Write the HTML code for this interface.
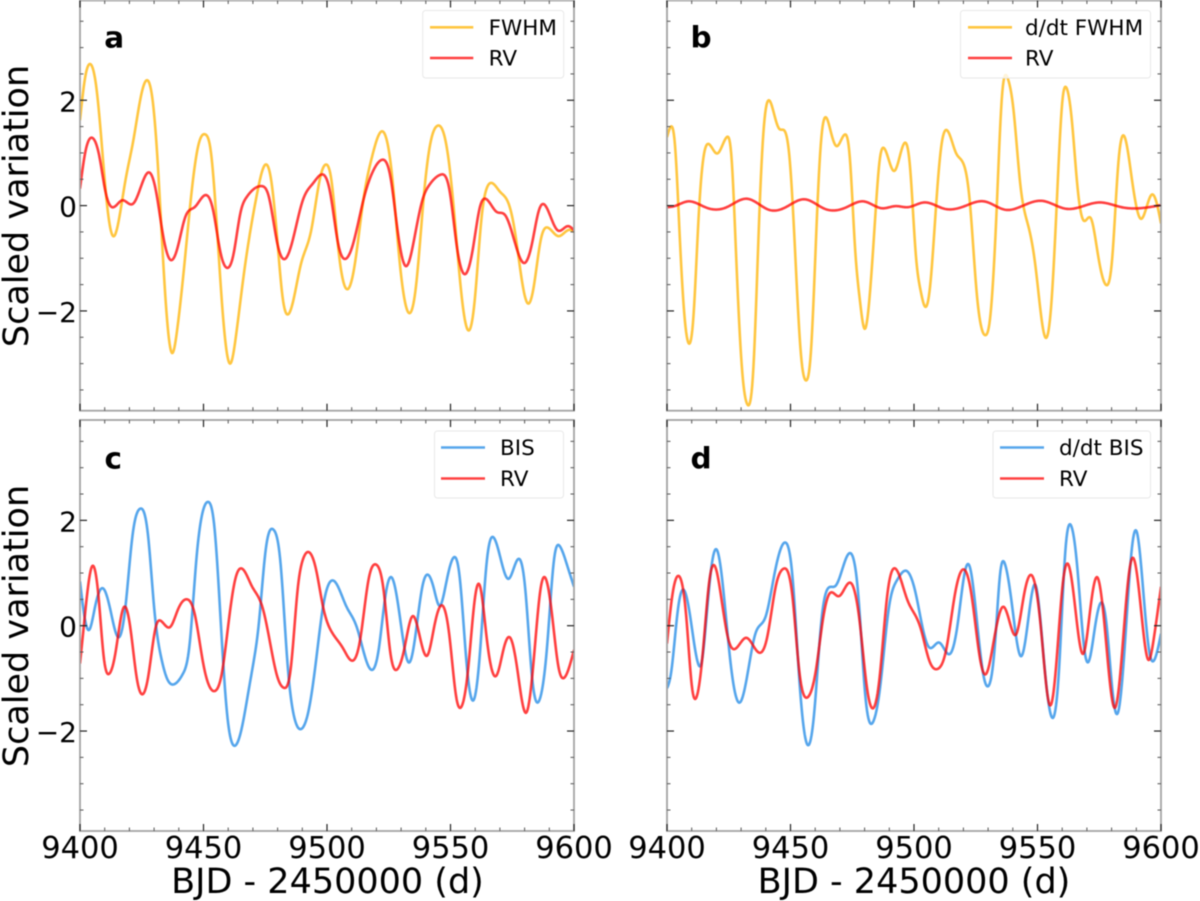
<!DOCTYPE html>
<html>
<head>
<meta charset="utf-8">
<title>Scaled variation panels</title>
<style>
html,body{margin:0;padding:0;background:#fff;width:1200px;height:901px;overflow:hidden}
svg{display:block;filter:blur(0.45px)}
text{font-family:"DejaVu Sans","Liberation Sans",sans-serif;fill:#000}
.leg{font-size:21.5px}
.pl{font-size:29.5px;font-weight:bold}
.tk{font-size:30.5px}
.tky{font-size:28px}
.al{font-size:35px}
</style>
</head>
<body>
<svg id="chart" width="1200" height="901" viewBox="0 0 1200 901" xmlns="http://www.w3.org/2000/svg">
<defs>
<clipPath id="clip-a"><rect x="80" y="0.5" width="494" height="410.2"/></clipPath>
<clipPath id="clip-b"><rect x="667" y="0.5" width="494" height="410.2"/></clipPath>
<clipPath id="clip-c"><rect x="80" y="420" width="494" height="411"/></clipPath>
<clipPath id="clip-d"><rect x="667" y="420" width="494" height="411"/></clipPath>
</defs>
<rect width="1200" height="901" fill="#fff"/>
<g id="marks"></g>
<g id="ticks"></g>
<g>
<rect x="422.7" y="10.5" width="141" height="67.5" rx="3" fill="#fff" fill-opacity="0.8" stroke="#e8e8e8"/>
<line x1="430" x2="473.3" y1="27.3" y2="27.3" stroke="#ffb300" stroke-opacity="0.75" stroke-width="2.6"/>
<text class="leg" x="488.6" y="35">FWHM</text>
<line x1="430" x2="473.3" y1="58" y2="58" stroke="#ff0000" stroke-opacity="0.75" stroke-width="2.6"/>
<text class="leg" x="488.6" y="65.7">RV</text>
</g>
<g>
<rect x="960.5" y="10.5" width="190" height="67.5" rx="3" fill="#fff" fill-opacity="0.8" stroke="#e8e8e8"/>
<line x1="968" x2="1012" y1="27.3" y2="27.3" stroke="#ffb300" stroke-opacity="0.75" stroke-width="2.6"/>
<text class="leg" x="1025" y="35">d/dt FWHM</text>
<line x1="968" x2="1012" y1="58" y2="58" stroke="#ff0000" stroke-opacity="0.75" stroke-width="2.6"/>
<text class="leg" x="1025" y="65.7">RV</text>
</g>
<g>
<rect x="434.5" y="431" width="129" height="67" rx="3" fill="#fff" fill-opacity="0.8" stroke="#e8e8e8"/>
<line x1="441" x2="485" y1="447.5" y2="447.5" stroke="#1e88e5" stroke-opacity="0.75" stroke-width="2.6"/>
<text class="leg" x="500" y="455.2">BIS</text>
<line x1="441" x2="485" y1="478.5" y2="478.5" stroke="#ff0000" stroke-opacity="0.75" stroke-width="2.6"/>
<text class="leg" x="500" y="486.2">RV</text>
</g>
<g>
<rect x="993" y="431" width="157.5" height="67" rx="3" fill="#fff" fill-opacity="0.8" stroke="#e8e8e8"/>
<line x1="1000" x2="1044" y1="447.5" y2="447.5" stroke="#1e88e5" stroke-opacity="0.75" stroke-width="2.6"/>
<text class="leg" x="1059" y="455.2">d/dt BIS</text>
<line x1="1000" x2="1044" y1="478.5" y2="478.5" stroke="#ff0000" stroke-opacity="0.75" stroke-width="2.6"/>
<text class="leg" x="1059" y="486.2">RV</text>
</g>
<text class="pl" x="104.3" y="47.5">a</text>
<text class="pl" x="690.5" y="47.5">b</text>
<text class="pl" x="104.5" y="468.7">c</text>
<text class="pl" x="690.5" y="468.7">d</text>
<text class="al" text-anchor="middle" transform="translate(28,206) rotate(-90)">Scaled variation</text>
<text class="al" text-anchor="middle" transform="translate(28,626) rotate(-90)">Scaled variation</text>
<text class="al" text-anchor="middle" x="327.5" y="893">BJD - 2450000 (d)</text>
<text class="al" text-anchor="middle" x="914" y="893">BJD - 2450000 (d)</text>
</svg>
<script>
const xMajorTicks = [9400, 9450, 9500, 9550, 9600];
const xMinorTicks = [9410,9420,9430,9440,9460,9470,9480,9490,9510,9520,9530,9540,9560,9570,9580,9590];
const yMajorTicks = [-2, 0, 2];
const yMinorTicks = [-3.5,-3,-2.5,-1.5,-1,-0.5,0.5,1,1.5,2.5,3,3.5];
const xTickLabels = ["9400","9450","9500","9550","9600"];
const yTickLabels = ["\u22122","0","2"];

const fwhmDays = [0,2,4.4,6.6,8.9,10.9,13.4,15.7,18.4,21.6,24.6,27,29.4,31.4,33.5,35.5,37.3,39.3,42.3,45.4,48.1,50.8,52.9,54.9,57.4,60.8,63.1,66.2,69,71.7,75.1,77.2,79.9,82,84.4,86.7,89.5,93.6,97,99.7,101.8,104.5,108.6,111.3,114.7,118.2,123,126.4,129.1,133.2,136,139.3,142.1,144.5,148.2,150.9,154.4,157.5,159.8,162.6,164.6,166.7,170.1,173.5,176.2,178.9,181.4,183.7,186.5,189.5,193.7,198.1,200];
const fwhmValues = [1.62,2.41,2.68,2.25,1.11,0.04,-0.58,-0.28,0.48,1.24,2.06,2.38,2.0,0.86,-0.91,-2.30,-2.80,-2.37,-1.10,0.35,1.18,1.35,1.05,-0.03,-1.80,-3.0,-2.49,-1.35,-0.47,0.23,0.78,0.54,-0.66,-1.73,-2.06,-1.73,-1.10,-0.47,0.48,0.78,0.48,-0.78,-1.58,-1.10,0.10,0.92,1.39,0.54,-0.91,-2.04,-1.54,0.23,1.24,1.51,1.18,0.16,-1.67,-2.37,-1.80,-0.22,0.32,0.43,0.26,0.04,-0.53,-1.42,-1.86,-1.54,-0.66,-0.42,-0.58,-0.46,-0.5];

const rvADays = [0,2,5.2,7.9,10.2,13,17.1,21.6,24.6,28,30.7,33.5,36.6,39.6,42.6,46.4,50.8,53.9,56.7,59.4,62.2,64.9,67.3,73.5,76.5,79.9,83.1,86.1,90.2,94.3,97.7,101.1,104.5,107.6,110.6,114.7,118.8,122.3,125.7,128.4,132,135.2,138.6,141.4,146.2,149.6,152.4,156,159.2,161.9,164.2,168.7,172.1,176.2,179.9,183,185.8,187.6,190.6,193.4,197.5,200];
const rvAValues = [0.32,0.98,1.28,0.92,0.29,-0.03,0.10,0.04,0.35,0.63,0.29,-0.53,-1.03,-0.78,-0.22,-0.03,0.20,-0.09,-0.85,-1.18,-0.91,-0.15,0.15,0.37,0.16,-0.72,-1.01,-0.66,0.10,0.42,0.59,0.29,-0.72,-1.01,-0.72,0.10,0.67,0.87,0.54,-0.41,-1.15,-0.66,0.10,0.39,0.59,0.29,-0.72,-1.30,-0.78,-0.03,0.13,-0.12,-0.18,-0.72,-1.09,-0.72,-0.09,0.03,-0.22,-0.47,-0.39,-0.47];

const dFwhmDays = [0,1.4,3.3,5.1,7.1,8.9,10.7,12.8,14.6,17.2,20.4,24.2,26.2,27.9,30.3,32.6,35,37.4,39.2,41.3,43.3,45.4,48.1,49.7,51.5,54.2,56.3,58.3,60.7,62.4,64.5,66.5,68.6,72,74,76.1,78.1,80,81.9,84.3,86.1,87.9,92.1,96.2,98.4,100.7,102.7,104.5,106.5,108.9,111,113.4,117.1,120.5,122.5,125.3,128.9,130.7,133.5,135.5,138,140.3,143,146.4,149.2,153.3,155.7,158.1,160.1,161.7,163.9,166.2,168.6,171.7,174.4,177.9,180.3,182.6,185.4,188.1,191.8,196.3,198.3,200];
const dFwhmValues = [1.30,1.49,1.11,-0.53,-2.11,-2.62,-2.11,-0.22,0.86,1.16,0.99,1.30,0.86,-0.85,-3.06,-3.78,-3.06,-0.15,1.49,2.0,1.75,1.46,1.37,0.86,-0.53,-2.81,-3.32,-2.75,-0.22,1.24,1.67,1.37,1.13,1.35,0.92,-0.78,-1.80,-2.34,-1.80,-0.22,0.86,1.09,0.66,1.19,0.73,-0.91,-1.62,-1.92,-1.54,-0.03,1.11,1.43,0.99,0.73,0.12,-1.61,-2.46,-2.18,-0.03,2.0,2.41,1.81,0.42,-0.41,-1.16,-2.51,-1.80,0.35,2.0,2.24,1.62,0.35,-0.28,-0.25,-0.91,-1.51,-0.97,0.73,1.29,0.54,-0.25,0.21,0.04,-0.34];

const rvBDays = [0,3,8.5,16,24.2,32.4,41.3,48.1,55.6,63.8,72.7,79.5,87,92.5,97.5,104.1,112.3,120.5,128.4,137.1,143.7,151.9,161.5,175.1,184,200];
const rvBValues = [-0.03,-0.01,0.08,-0.04,-0.03,0.13,-0.08,-0.03,0.12,-0.06,-0.03,0.08,-0.05,-0.01,-0.03,0.06,-0.06,-0.01,0.08,-0.08,-0.01,0.09,-0.06,0.06,-0.03,0.01];

const bisDays = [0,1.4,3.7,6.1,9.3,12.3,15.7,18.4,21.2,24.3,27.6,30.1,32.8,35.5,38.2,41.7,44.4,47.1,49.9,51.9,54.4,57.1,59.4,62.6,65.6,68.3,70.3,72.4,75.1,78.4,81.2,83.9,86.7,89.6,92.6,95.6,98.4,103.1,107.9,112,115.4,118.2,120.9,123.6,126.1,129.1,131.8,133.2,135.9,138.6,140.7,143.4,145.5,148.2,151.4,153.7,156.4,159.4,161.9,164.6,167.7,170.8,173.5,177.6,180.3,183,186.1,189.2,191.9,194.4,197.4,200];
const bisValues = [0.84,0.30,-0.08,0.36,0.71,0.30,-0.22,0.36,1.69,2.22,1.69,0.30,-0.59,-1.03,-1.11,-0.91,-0.34,1.25,2.20,2.35,1.88,-0.02,-1.60,-2.28,-1.92,-1.22,-0.68,0.04,1.41,1.82,1.18,-0.65,-1.73,-1.96,-1.60,-0.65,0.36,0.84,0.36,-0.02,-0.59,-0.84,-0.46,0.55,0.92,0.30,-0.53,-0.70,-0.15,0.74,0.97,0.68,0.38,0.80,1.30,0.93,-0.65,-1.41,-0.53,1.18,1.66,1.18,0.89,1.27,0.68,-0.97,-1.40,-0.34,1.25,1.50,1.12,0.74];

const rvCDays = [0,1.6,4.8,7.5,9.6,11.9,14.3,17.5,20.5,22.9,25,27.6,30.7,32.8,36.6,39.6,43.4,46.4,49.9,54.6,57.4,60.1,62.8,66.2,69.7,73.8,76.5,79.9,82.6,85.4,88.1,90.2,92.9,95.6,98.4,101.8,106.5,110.6,113.4,116.8,119.9,122.9,125.7,128.4,131.2,134.6,137.3,140.7,143.4,146.8,149.6,152.3,154.4,157.1,159.8,161.9,164.6,168.7,171.4,174.2,176.9,180.7,183.7,186.4,188.5,191.2,193.7,196,198.1,200];
const rvCValues = [-0.72,0.02,1.12,0.55,-0.59,-0.91,-0.53,0.33,-0.08,-0.97,-1.30,-0.97,-0.02,0.09,-0.02,0.30,0.50,0.23,-0.72,-1.24,-0.91,0.04,0.87,1.06,0.74,0.36,-0.21,-0.97,-1.18,-0.78,0.68,1.25,1.39,1.06,0.36,-0.11,-0.43,-0.66,-0.27,0.87,1.16,0.68,-0.53,-0.83,-0.46,0.18,-0.15,-0.56,-0.02,0.38,-0.21,-1.35,-1.54,-0.84,0.49,0.76,-0.21,-0.94,-0.46,-0.23,-0.78,-1.65,-0.65,0.68,0.90,0.17,-0.78,-0.99,-0.78,-0.46];

const dBisDays = [0,1.6,4.4,6.8,9.6,12.6,13.9,16,18,20.2,22.8,25.6,29.4,32.4,35.8,39.9,43.3,47.8,50.8,53.5,57.2,59.7,62.4,65.2,68.3,71.3,74.7,77.5,80.2,83.6,86.3,89.7,93.2,97,100.7,103.4,106.1,110.2,114.7,117.7,120.5,122.5,125.3,128,130,132.8,134.9,136.9,139.6,143.4,146.4,149.2,152.6,156,158.7,161.2,163.5,166.2,169,170.6,173.1,175.8,177.9,180.6,182.5,185.4,188.1,190.2,192.9,195.4,197.3,200];
const dBisValues = [-1.19,-0.91,0.30,0.68,0.11,-0.72,-0.72,0.17,1.12,1.44,0.68,-0.65,-1.46,-0.97,-0.15,0.17,0.93,1.58,0.93,-0.97,-2.27,-1.60,0.04,0.71,0.76,1.12,1.36,0.55,-1.28,-1.81,-1.16,0.30,0.87,1.04,0.61,-0.02,-0.41,-0.32,-0.53,0.04,1.0,1.13,0.17,-0.91,-1.15,-0.34,1.0,1.16,0.42,-0.58,0.17,0.77,-0.65,-1.75,-0.84,1.37,1.91,1.06,-0.46,-0.69,-0.08,0.44,0.04,-1.35,-1.66,-0.34,1.42,1.78,0.61,-0.53,-0.65,-0.15];

const rvDDays = [0,1.9,4.9,7.8,10.1,12,14.6,17,19.4,22.1,24.9,27.6,32.1,37.2,40.6,44,47.1,50.8,53.5,56.9,60.3,63.1,65.8,69.6,74.7,78.1,80.9,83.3,86.1,89.1,92.8,97.3,102.7,106.1,109.6,113,116.4,120.5,123.2,126.6,129.1,132.1,136.2,138.9,141.4,144.4,147.8,151.2,155,157.4,160.1,162.4,164.9,168.6,171,174.2,177.2,181.3,184,186.3,188.5,191.5,194.9,197,200];
const rvDValues = [-0.34,0.49,0.94,0.17,-1.16,-1.35,-0.46,0.80,1.13,0.49,-0.27,-0.44,-0.23,-0.51,-0.21,0.74,1.08,0.55,-0.84,-1.36,-0.84,0.11,0.61,0.56,0.80,0.04,-1.16,-1.57,-0.97,0.55,1.07,0.49,-0.05,-0.65,-0.82,-0.46,0.55,1.06,0.61,-0.59,-0.92,-0.34,0.36,0.04,-0.16,0.55,0.95,0.04,-1.51,-0.84,0.74,1.17,0.49,-0.53,0.17,0.92,-0.02,-1.56,-0.65,0.68,1.29,0.49,-0.65,-0.27,0.74];

const SVGNS = 'http://www.w3.org/2000/svg';
const PANEL_W = 494, UNIT = 52.67, X_START = 9400, X_SPAN = 200;
const panels = [
  {id:'a', left:80,  top:0.5, bottom:410.7, zero:205.6, xLabels:false, yLabels:true},
  {id:'b', left:667, top:0.5, bottom:410.7, zero:205.6, xLabels:false, yLabels:false},
  {id:'c', left:80,  top:420, bottom:831, zero:625.7, xLabels:true,  yLabels:true},
  {id:'d', left:667, top:420, bottom:831, zero:625.7, xLabels:true,  yLabels:false}
];
function xAxis(p, bjd){ return p.left + (bjd - X_START) / X_SPAN * PANEL_W; }
function yAxis(p, v){ return p.zero - v * UNIT; }

function splineSamples(xs, ys, step){
  const n = xs.length, y2 = new Array(n).fill(0), u = new Array(n).fill(0);
  for(let i=1;i<n-1;i++){
    const sig=(xs[i]-xs[i-1])/(xs[i+1]-xs[i-1]);
    const q=sig*y2[i-1]+2;
    y2[i]=(sig-1)/q;
    const d=(ys[i+1]-ys[i])/(xs[i+1]-xs[i])-(ys[i]-ys[i-1])/(xs[i]-xs[i-1]);
    u[i]=(6*d/(xs[i+1]-xs[i-1])-sig*u[i-1])/q;
  }
  for(let k=n-2;k>=0;k--){ y2[k]=y2[k]*y2[k+1]+u[k]; }
  const out=[]; let j=0;
  for(let t=xs[0];t<=xs[n-1]+1e-6;t+=step){
    while(j<n-2 && t>xs[j+1]) j++;
    const h=xs[j+1]-xs[j], a=(xs[j+1]-t)/h, b=(t-xs[j])/h;
    const v=a*ys[j]+b*ys[j+1]+((a*a*a-a)*y2[j]+(b*b*b-b)*y2[j+1])*h*h/6;
    out.push([t,v]);
  }
  return out;
}

const marksLayer = document.getElementById('marks');
const ticksLayer = document.getElementById('ticks');

function drawSeries(p, days, values, color, name){
  const pts = splineSamples(days, values, 0.25);
  const d = pts.map(function(pt,i){
    return (i?'L':'M') + xAxis(p, X_START + pt[0]).toFixed(2) + ' ' + yAxis(p, pt[1]).toFixed(2);
  }).join('');
  const el = document.createElementNS(SVGNS,'path');
  
  
  el.setAttribute('d', d);
  el.setAttribute('fill', 'none');
  el.setAttribute('stroke', color);
  el.setAttribute('stroke-opacity', '0.75');
  el.setAttribute('stroke-width', '2.6');
  el.setAttribute('stroke-linejoin', 'round');
  el.setAttribute('clip-path', 'url(#clip-' + p.id + ')');
  marksLayer.appendChild(el);
}

function tickLine(x1,y1,x2,y2,major){
  const el = document.createElementNS(SVGNS,'line');
  
  
  el.setAttribute('x1', x1);
  el.setAttribute('y1', y1);
  el.setAttribute('x2', x2);
  el.setAttribute('y2', y2);
  el.setAttribute('stroke', major ? '#222' : '#555');
  el.setAttribute('stroke-width', major ? '1.2' : '1');
  ticksLayer.appendChild(el);
}

function drawAxes(p){
  const right = p.left + PANEL_W;
  const frame = document.createElementNS(SVGNS,'rect');
  
  
  frame.setAttribute('x', p.left);
  frame.setAttribute('y', p.top);
  frame.setAttribute('width', PANEL_W);
  frame.setAttribute('height', p.bottom - p.top);
  frame.setAttribute('fill', 'none');
  frame.setAttribute('stroke', '#a4a4a4');
  frame.setAttribute('stroke-width', '1.8');
  ticksLayer.appendChild(frame);
  xMajorTicks.forEach(function(v,i){
    const x = xAxis(p, v);
    tickLine(x, p.bottom, x, p.bottom-7, true);
    tickLine(x, p.top, x, p.top+7, true);
    if(p.xLabels){
      const t = document.createElementNS(SVGNS,'text');
      
      
      t.setAttribute('class', 'tk');
      t.setAttribute('text-anchor', 'middle');
      t.setAttribute('x', x);
      t.setAttribute('y', 858);
      t.textContent = xTickLabels[i];
      ticksLayer.appendChild(t);
    }
  });
  xMinorTicks.forEach(function(v){
    const x = xAxis(p, v);
    tickLine(x, p.bottom, x, p.bottom-3.5, false);
    tickLine(x, p.top, x, p.top+3.5, false);
  });
  yMajorTicks.forEach(function(v,i){
    const y = yAxis(p, v);
    tickLine(p.left, y, p.left+7, y, true);
    tickLine(right, y, right-7, y, true);
    if(p.yLabels){
      const t = document.createElementNS(SVGNS,'text');
      
      
      t.setAttribute('class', 'tky');
      t.setAttribute('text-anchor', 'end');
      t.setAttribute('x', p.left-3);
      t.setAttribute('y', y+11);
      t.textContent = yTickLabels[i];
      ticksLayer.appendChild(t);
    }
  });
  yMinorTicks.forEach(function(v){
    const y = yAxis(p, v);
    tickLine(p.left, y, p.left+3.5, y, false);
    tickLine(right, y, right-3.5, y, false);
  });
}

const GOLD = '#ffb300', RED = '#ff0000', BLUE = '#1e88e5';
panels.forEach(drawAxes);
drawSeries(panels[0], fwhmDays, fwhmValues, GOLD, 'fwhm-line');
drawSeries(panels[0], rvADays, rvAValues, RED, 'rv-line-a');
drawSeries(panels[1], dFwhmDays, dFwhmValues, GOLD, 'dfwhm-line');
drawSeries(panels[1], rvBDays, rvBValues, RED, 'rv-line-b');
drawSeries(panels[2], bisDays, bisValues, BLUE, 'bis-line');
drawSeries(panels[2], rvCDays, rvCValues, RED, 'rv-line-c');
drawSeries(panels[3], dBisDays, dBisValues, BLUE, 'dbis-line');
drawSeries(panels[3], rvDDays, rvDValues, RED, 'rv-line-d');
</script>
</body>
</html>
